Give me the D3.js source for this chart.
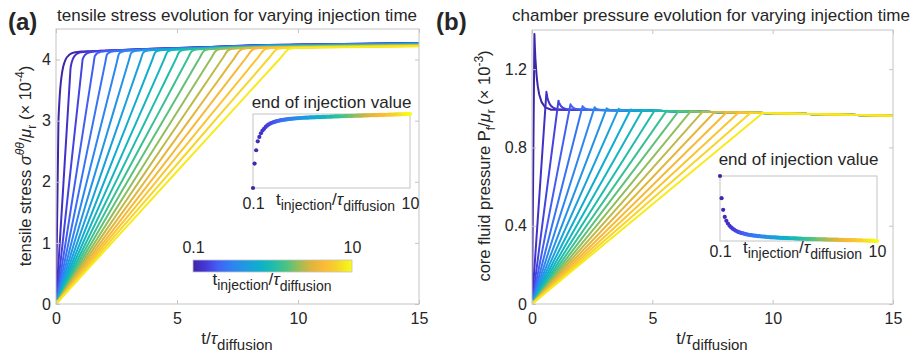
<!DOCTYPE html>
<html><head><meta charset="utf-8">
<script src="https://cdn.jsdelivr.net/npm/d3@7"></script>
<style>body{margin:0;background:#fff}svg{display:block}text{font-family:"Liberation Sans",Arial,Helvetica,sans-serif;fill:#262626}</style>
</head><body><svg id="c" width="917" height="354"></svg>
<script>
// ---------------- DATA ----------------
const injTimes = [0.1,0.6,1.1,1.6,2.1,2.6,3.1,3.6,4.1,4.6,5.1,5.6,6.1,6.6,7.1,7.6,8.1,8.6,9.1,9.6];
// inset: end-of-injection values for t_injection = 0.1 .. 10 (step 0.1)
const insetTimes = d3.range(1,101).map(k=>k/10);
const stressEnd = [2.950,3.353,3.572,3.719,3.792,3.853,3.896,3.926,3.957,3.981,
 3.999,4.014,4.026,4.036,4.044,4.052,4.058,4.064,4.069,4.074,
 4.077,4.081,4.085,4.088,4.091,4.093,4.096,4.098,4.100,4.103,
 4.104,4.107,4.108,4.109,4.110,4.111,4.113,4.114,4.115,4.116,
 4.118,4.119,4.120,4.120,4.121,4.122,4.124,4.125,4.125,4.126,
 4.127,4.129,4.130,4.130,4.131,4.132,4.133,4.133,4.135,4.136,
 4.137,4.137,4.138,4.140,4.141,4.141,4.142,4.143,4.143,4.144,
 4.146,4.147,4.147,4.148,4.149,4.149,4.150,4.152,4.152,4.153,
 4.154,4.155,4.155,4.157,4.158,4.158,4.159,4.160,4.160,4.161,
 4.163,4.164,4.164,4.165,4.166,4.166,4.168,4.169,4.169,4.170];
const pressEnd = [1.380,1.242,1.169,1.125,1.101,1.084,1.070,1.060,1.052,1.045,
 1.039,1.034,1.030,1.026,1.024,1.021,1.018,1.016,1.014,1.012,
 1.011,1.009,1.008,1.007,1.005,1.005,1.003,1.003,1.002,1.001,
 1.000,0.999,0.998,0.998,0.997,0.997,0.996,0.996,0.995,0.995,
 0.994,0.994,0.993,0.993,0.992,0.992,0.992,0.991,0.991,0.990,
 0.990,0.990,0.989,0.989,0.989,0.988,0.988,0.988,0.987,0.987,
 0.987,0.986,0.986,0.986,0.986,0.985,0.985,0.985,0.984,0.984,
 0.984,0.984,0.983,0.983,0.983,0.982,0.982,0.982,0.981,0.981,
 0.981,0.981,0.981,0.980,0.980,0.980,0.979,0.979,0.979,0.979,
 0.978,0.978,0.978,0.977,0.977,0.977,0.977,0.976,0.976,0.975];
// long-time envelopes
const stressEnvT = [0.3,1,2,4,6,8.4,11,15];
const stressEnvV = [4.12,4.13,4.145,4.175,4.2,4.235,4.25,4.27];
const stressLateOffset = [0,0,0.003,0.005,0.008,0.01,0.013,0.016,0.019,0.022,0.025,0.028,0.031,0.034,0.037,0.04,0.043,0.046,0.05,0.053];
const stressRiseDt = [0.03,0.06,0.1,0.15,0.2,0.3,0.45,0.65,1.0];
const stressRiseLeft = [0.75,0.58,0.42,0.29,0.2,0.1,0.04,0.01,0];
const pressEnvT = [0.3,2,5,8,10,15];
const pressEnvV = [0.993,0.992,0.987,0.98,0.975,0.962];
const pressDecayDt = [0.02,0.04,0.07,0.1,0.14,0.2,0.3,0.45,0.7];
const pressDecayLeft = [0.82,0.68,0.54,0.42,0.31,0.2,0.1,0.03,0];
// axes ticks
const xTicks = [0,5,10,15];
const yTicksL = [0,1,2,3,4];
const yTicksR = [0,0.4,0.8,1.2];
const cbTicks = [0.1,10];
// parula colormap stops
const parulaPos = [0,0.08,0.16,0.25,0.33,0.42,0.5,0.58,0.66,0.74,0.82,0.9,1];
const parula = ["#3e26a8","#4538d9","#4262f5","#2d84f2","#1f9ae0","#0cb0cc","#1ebcad","#45c387","#94be5a","#dcb63c","#fcb937","#f5d22b","#f9fb15"];

// ---------------- DRAW ----------------
const svg = d3.select("#c");
const color = d3.scaleLinear().domain(parulaPos.map(p=>0.1+9.9*p)).range(parula).interpolate(d3.interpolateRgb).clamp(true);
const idx = t => Math.round(t*10)-1;
const boxCol = "#c4c4c4";

function axesBox(x,y,yTicks,fmt){
  const g = svg.append("g");
  const [x0,x1]=x.range(), [y0,y1]=y.range();
  g.append("rect").attr("x",x0).attr("y",y1).attr("width",x1-x0).attr("height",y0-y1).attr("fill","none").attr("stroke",boxCol).attr("stroke-width",1);
  const b = g.append("g").attr("transform",`translate(0,${y0})`).call(d3.axisBottom(x).tickValues(xTicks).tickSize(-4).tickSizeOuter(0).tickPadding(9));
  const t = g.append("g").attr("transform",`translate(0,${y1})`).call(d3.axisTop(x).tickValues(xTicks).tickSize(-4).tickSizeOuter(0).tickFormat(""));
  const l = g.append("g").attr("transform",`translate(${x0},0)`).call(d3.axisLeft(y).tickValues(yTicks).tickSize(-4).tickSizeOuter(0).tickPadding(5).tickFormat(fmt));
  const r = g.append("g").attr("transform",`translate(${x1},0)`).call(d3.axisRight(y).tickValues(yTicks).tickSize(-4).tickSizeOuter(0).tickFormat(""));
  [b,t,l,r].forEach(a=>{a.select(".domain").remove();a.selectAll("line").attr("stroke",boxCol);a.selectAll("text").style("font-size","16px").attr("fill","#262626");});
  return g;
}

const xL = d3.scaleLinear([0,15],[56,419]);
const yL = d3.scaleLinear([0,4.5],[304,29]);
const xR = d3.scaleLinear([0,15],[532,893]);
const yR = d3.scaleLinear([0,1.4],[304,30]);

svg.append("clipPath").attr("id","clipL").append("rect").attr("x",56).attr("y",29).attr("width",363).attr("height",275);
svg.append("clipPath").attr("id","clipR").append("rect").attr("x",532).attr("y",30).attr("width",361).attr("height",274);

const sEnv = d3.scaleLinear(stressEnvT,stressEnvV).clamp(true);
const pEnv = d3.scaleLinear(pressEnvT,pressEnvV).clamp(true);
const riseFrac = [0.25,0.5,0.75,0.9,0.97];

// ----- left panel -----
const lineL = d3.line().x(d=>xL(d[0])).y(d=>yL(d[1])).curve(d3.curveMonotoneX);
const gl = svg.append("g").attr("clip-path","url(#clipL)");
injTimes.forEach((ti,j)=>{
  const end = stressEnd[idx(ti)], off = stressLateOffset[j];
  const env = t => sEnv(t)-off;
  const def = Math.max(0, env(ti)-end);
  const pts = [[0,0]];
  riseFrac.forEach(f=>pts.push([ti*f,end*f]));
  pts.push([ti,end]);
  stressRiseDt.forEach((dt,k)=>pts.push([ti+dt, env(ti+dt)-def*stressRiseLeft[k]]));
  const tl = ti+stressRiseDt[stressRiseDt.length-1];
  stressEnvT.filter(t=>t>tl).forEach(t=>pts.push([t,env(t)]));
  gl.append("path").attr("d",lineL(pts)).attr("fill","none").attr("stroke",color(ti)).attr("stroke-width",2);
});
axesBox(xL,yL,yTicksL,d3.format("d"));

// ----- right panel -----
const lineR = d3.line().x(d=>xR(d[0])).y(d=>yR(d[1]));
const gr = svg.append("g").attr("clip-path","url(#clipR)");
injTimes.forEach((ti,j)=>{
  const peak = pressEnd[idx(ti)];
  const ex = peak - pEnv(ti);
  const pts = [[0,0],[ti,peak]];
  pressDecayDt.forEach((dt,k)=>pts.push([ti+dt, pEnv(ti+dt)+ex*pressDecayLeft[k]]));
  const tl = ti+pressDecayDt[pressDecayDt.length-1];
  pressEnvT.filter(t=>t>tl).forEach(t=>pts.push([t,pEnv(t)]));
  gr.append("path").attr("d",lineR(pts)).attr("fill","none").attr("stroke",color(ti)).attr("stroke-width",2).attr("stroke-linejoin","round");
});
axesBox(xR,yR,yTicksR,d=>d===0?"0":d3.format(".1f")(d));

// ----- text helpers -----
function tauLabel(g, x, y, anchor, fsMain, fsSub, withInj){
  const t = g.append("text").attr("x",x).attr("y",y).attr("text-anchor",anchor).style("font-size",fsMain+"px");
  t.append("tspan").text("t");
  if(withInj){ t.append("tspan").attr("dy",5).style("font-size",fsSub+"px").text("injection"); t.append("tspan").attr("dy",-5).text("/"); }
  else t.append("tspan").text("/");
  t.append("tspan").style("font-style","italic").text("τ");
  t.append("tspan").attr("dy",6).style("font-size",fsSub+"px").text("diffusion");
  return t;
}

// titles
svg.append("text").attr("x",237).attr("y",21).attr("text-anchor","middle").style("font-size","17px").text("tensile stress evolution for varying injection time");
svg.append("text").attr("x",711).attr("y",21).attr("text-anchor","middle").style("font-size","17px").text("chamber pressure evolution for varying injection time");
svg.append("text").attr("x",8).attr("y",30).style("font-size","24px").style("font-weight","bold").attr("fill","#111").text("(a)");
svg.append("text").attr("x",436).attr("y",30).style("font-size","24px").style("font-weight","bold").attr("fill","#111").text("(b)");

// x labels
tauLabel(svg,237,344,"middle",17,15,false);
tauLabel(svg,712,344,"middle",17,15,false);

// y labels
const yl = svg.append("text").attr("transform","translate(31,166) rotate(-90)").attr("text-anchor","middle").style("font-size","16.5px");
yl.append("tspan").text("tensile stress ");
yl.append("tspan").style("font-style","italic").text("σ");
yl.append("tspan").attr("dy",-7).style("font-size","12px").style("font-style","italic").text("θθ");
yl.append("tspan").attr("dy",7).text("/");
yl.append("tspan").style("font-style","italic").text("μ");
yl.append("tspan").attr("dy",5).style("font-size","12px").text("r");
yl.append("tspan").attr("dy",-5).text(" (× 10");
yl.append("tspan").attr("dy",-7).style("font-size","12px").text("-4");
yl.append("tspan").attr("dy",7).text(")");

const yr = svg.append("text").attr("transform","translate(490,166) rotate(-90)").attr("text-anchor","middle").style("font-size","16.5px");
yr.append("tspan").text("core fluid pressure P");
yr.append("tspan").attr("dy",5).style("font-size","12px").text("f");
yr.append("tspan").attr("dy",-5).text("/");
yr.append("tspan").style("font-style","italic").text("μ");
yr.append("tspan").attr("dy",5).style("font-size","12px").text("r");
yr.append("tspan").attr("dy",-5).text(" (× 10");
yr.append("tspan").attr("dy",-7).style("font-size","12px").text("-3");
yr.append("tspan").attr("dy",7).text(")");

// ----- colorbar -----
const cbX = d3.scaleLinear([0.1,10],[193,352]);
const grad = svg.append("defs").append("linearGradient").attr("id","par").attr("x1","0%").attr("x2","100%");
parula.forEach((c,i)=>grad.append("stop").attr("offset",(100*parulaPos[i])+"%").attr("stop-color",c));
svg.append("rect").attr("x",cbX(0.1)).attr("y",260).attr("width",cbX(10)-cbX(0.1)).attr("height",12).attr("fill","url(#par)").attr("stroke",boxCol).attr("stroke-width",0.8);
const cba = svg.append("g").attr("transform","translate(0,255)").call(d3.axisTop(cbX).tickValues(cbTicks).tickSize(0).tickPadding(2).tickFormat(d=>d===0.1?"0.1":"10"));
cba.select(".domain").remove(); cba.selectAll("text").style("font-size","16px").attr("fill","#262626");
tauLabel(svg,272,285,"middle",17,14,true);

// ----- insets -----
function inset(x0,x1,yTop,yBot,vals,title,titleY,tickY,labY){
  const x = d3.scaleLinear([0.1,10],[x0,x1]);
  const y = d3.scaleLinear(d3.extent(vals),[yBot,yTop]);
  const g = svg.append("g");
  g.append("rect").attr("x",x0).attr("y",yTop).attr("width",x1-x0).attr("height",yBot-yTop).attr("fill","#fff").attr("stroke",boxCol);
  g.selectAll("circle").data(insetTimes).join("circle").attr("cx",d=>x(d)).attr("cy",(d,i)=>y(vals[i])).attr("r",2.1).attr("fill",d=>color(d));
  g.append("text").attr("x",(x0+x1)/2).attr("y",titleY).attr("text-anchor","middle").style("font-size","17px").text(title);
  const ax = g.append("g").attr("transform",`translate(0,${tickY})`).call(d3.axisBottom(x).tickValues(cbTicks).tickSize(0).tickPadding(0).tickFormat(d=>d===0.1?"0.1":"10"));
  ax.select(".domain").remove(); ax.selectAll("text").attr("dy",0).style("font-size","16px").attr("fill","#262626");
  tauLabel(g,(x0+x1)/2+4,labY,"middle",17,14,true);
}
inset(253,410,114,188,stressEnd,"end of injection value",108,209,205);
inset(720,877,176,241,pressEnd,"end of injection value",165,257,253);
</script></body></html>
